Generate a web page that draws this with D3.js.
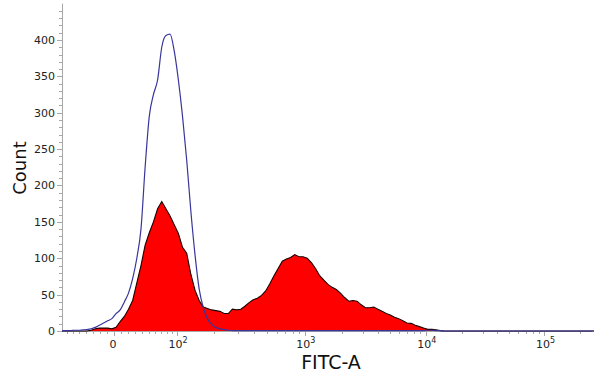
<!DOCTYPE html>
<html>
<head>
<meta charset="utf-8">
<script src="https://cdn.jsdelivr.net/npm/d3@7"></script>
<style>
  body { margin: 0; background: #fff; }
  text { font-family: "DejaVu Sans", Verdana, sans-serif; }
</style>
</head>
<body>
<div id="corpo"></div>
<script>
// histogram counts per display channel (128 channels across the logicle axis)
var stained = [
  0, 0, 0, 0, 0, 0, 0, 1, 3, 4,
  4, 4, 3, 5, 13, 20, 30, 42, 66, 90,
  118, 135, 150, 168, 178, 168, 158, 146, 134, 115,
  107, 78, 56, 42, 33, 31, 29, 28, 27, 24,
  24, 30, 29, 30, 34, 39, 43, 45, 49, 55,
  65, 76, 86, 96, 99, 101, 105, 102, 102, 100,
  94, 86, 76, 70, 64, 60, 57, 52, 46, 41,
  42, 41, 36, 32, 32, 33, 30, 27, 24, 22,
  19, 17, 14, 11, 10.5, 8, 6, 4, 2.3, 2.3,
  1.5, 0.5, 0, 0, 0, 0, 0, 0, 0, 0,
  0, 0, 0, 0, 0, 0, 0, 0, 0, 0,
  0, 0, 0, 0, 0, 0, 0, 0, 0, 0,
  0, 0, 0, 0, 0, 0, 0, 0, 0
];
var control = [
  0.5, 0.5, 0.5, 1, 1, 1.5, 2, 3, 5, 8,
  11, 14, 17, 24, 29, 40, 52, 72, 100, 140,
  225, 295, 325, 345, 390, 406, 408, 385, 345, 295,
  235, 165, 105, 58, 32, 17, 9, 5, 3, 2,
  1, 0.5, 0.5, 0.5, 0.5, 0.5, 0.5, 0.5, 0.5, 0.5,
  0.5, 0.5, 0.5, 0.5, 0.5, 0.5, 0.5, 0.5, 0.5, 0.5,
  0.5, 0.5, 0.5, 0.5, 0.5, 0.5, 0.5, 0.5, 0.5, 0.5,
  0.5, 0.5, 0.5, 0.5, 0.5, 0.5, 0.5, 0.5, 0.5, 0.5,
  0.5, 0.5, 0.5, 0.5, 0.5, 0.5, 0.5, 0.5, 1, 1,
  0.5, 0.5, 0, 0, 0, 0, 0, 0, 0, 0,
  0, 0, 0, 0, 0, 0, 0, 0, 0, 0,
  0, 0, 0, 0, 0, 0, 0, 0, 0, 0,
  0, 0, 0, 0, 0, 0, 0, 0, 0
];
var xTickValues = [0, 1e2, 1e3, 1e4, 1e5];
var xTickExp = [null, 2, 3, 4, 5];
var yTickValues = [0, 50, 100, 150, 200, 250, 300, 350, 400];

var NCH = 128;
// logicle parameters (top of scale, decades, linearization width)
var T = 262144, M = 4.5, W = 0.44;

var width = 600, height = 385;
var plotLeft = 62, plotRight = 594, plotBottom = 331, plotTop = 3.6;

// solve w = 2p ln(p)/(p+1) for p
var wNat = W * Math.LN10, mNat = M * Math.LN10;
var p = bisect(function(q){ return 2 * q * Math.log(q) / (q + 1); }, wNat, 1.0001, 20);

function bisect(f, target, lo, hi){
    for (var i = 0; i < 80; i++){
        var mid = (lo + hi) / 2;
        if (f(mid) < target) lo = mid; else hi = mid;
    }
    return (lo + hi) / 2;
}
// display (decades) -> data value
function logicleInverse(yDec){
    var yy = yDec * Math.LN10;
    var sgn = 1;
    if (yy < wNat){ yy = 2 * wNat - yy; sgn = -1; }
    var u = yy - wNat;
    var v = T * Math.exp(-(mNat - wNat)) * (Math.exp(u) - p * p * Math.exp(-u / p) + p * p - 1);
    return sgn * v;
}
// data value -> display (decades)
function logicle(v){
    return bisect(logicleInverse, v, -1, M + 1);
}

var x = d3.scaleLinear().domain([0, M]).range([plotLeft, plotRight]);
var chan = d3.scaleLinear().domain([0, NCH]).range([0, M]);
var y = d3.scaleLinear().domain([0, 450]).range([plotBottom, plotTop]);

var svg = d3.select("#corpo").append("svg")
    .attr("width", width)
    .attr("height", height);

// minor ticks on x: 10..90 around zero and 2..9 per decade
var xMinor = [-70, -60, -50, -40, -30, -20, -10, 10, 20, 30, 40, 50, 60, 70, 80, 90];
[2, 3, 4].forEach(function(e){
    for (var k = 2; k <= 9; k++) xMinor.push(k * Math.pow(10, e));
});
xMinor.push(2e5);

var axisColor = "#a8a8a8";

svg.append("g").selectAll("line")
    .data(xMinor)
    .enter().append("line")
    .attr("x1", function(d){ return Math.round(x(logicle(d))) + 0.5; })
    .attr("x2", function(d){ return Math.round(x(logicle(d))) + 0.5; })
    .attr("y1", plotBottom)
    .attr("y2", plotBottom + 3)
    .attr("stroke", axisColor);

svg.append("g").selectAll("line")
    .data(xTickValues)
    .enter().append("line")
    .attr("x1", function(d){ return Math.round(x(logicle(d))) + 0.5; })
    .attr("x2", function(d){ return Math.round(x(logicle(d))) + 0.5; })
    .attr("y1", plotBottom)
    .attr("y2", plotBottom + 5)
    .attr("stroke", axisColor);

// y ticks
svg.append("g").selectAll("line")
    .data(d3.range(0, 450, 10))
    .enter().append("line")
    .attr("x1", function(d){ return d % 50 === 0 ? plotLeft - 5 : plotLeft - 3; })
    .attr("x2", plotLeft)
    .attr("y1", function(d){ return Math.round(y(d)) + 0.5; })
    .attr("y2", function(d){ return Math.round(y(d)) + 0.5; })
    .attr("stroke", axisColor);

svg.append("line")
    .attr("x1", plotLeft + 0.5).attr("x2", plotLeft + 0.5)
    .attr("y1", plotTop).attr("y2", plotBottom)
    .attr("stroke", axisColor);
svg.append("line")
    .attr("x1", plotLeft).attr("x2", x(M) - 2)
    .attr("y1", plotBottom + 0.5).attr("y2", plotBottom + 0.5)
    .attr("stroke", axisColor);

// stained sample: red filled histogram
var area = d3.area()
    .x(function(d, i){ return x(chan(i)); })
    .y0(y(0))
    .y1(function(d){ return y(d); });
var line = d3.line()
    .x(function(d, i){ return x(chan(i)); })
    .y(function(d){ return y(d); });

svg.append("path")
    .datum(stained)
    .attr("d", area)
    .attr("fill", "#ff0000");
svg.append("path")
    .datum(stained)
    .attr("d", line)
    .attr("fill", "none")
    .attr("stroke", "#1a0000")
    .attr("stroke-width", 1.1);

// control: blue outline
svg.append("path")
    .datum(control)
    .attr("d", line.curve(d3.curveMonotoneX))
    .attr("fill", "none")
    .attr("stroke", "#38369a")
    .attr("stroke-width", 1.2);

// tick labels
svg.append("g").selectAll("text")
    .data(yTickValues)
    .enter().append("text")
    .attr("x", plotLeft - 7)
    .attr("y", function(d){ return y(d); })
    .attr("dy", "0.36em")
    .attr("text-anchor", "end")
    .style("font-size", "11px")
    .style("fill", "#222")
    .text(function(d){ return d; });

var xl = svg.append("g").selectAll("text")
    .data(xTickValues)
    .enter().append("text")
    .attr("x", function(d){ return x(logicle(d)) + (d === 0 ? -1 : 1); })
    .attr("y", 348)
    .attr("text-anchor", "middle")
    .style("font-size", "11px")
    .style("fill", "#222");
xl.append("tspan")
    .text(function(d, i){ return xTickExp[i] === null ? "0" : "10"; });
xl.filter(function(d, i){ return xTickExp[i] !== null; })
    .append("tspan")
    .attr("dy", -5)
    .style("font-size", "8px")
    .text(function(d){ return xTickExp[xTickValues.indexOf(d)]; });

// axis titles
svg.append("text")
    .attr("x", 331)
    .attr("y", 369)
    .attr("text-anchor", "middle")
    .style("font-size", "19px")
    .style("fill", "#111")
    .text("FITC-A");
svg.append("text")
    .attr("transform", "translate(26,168) rotate(-90)")
    .attr("text-anchor", "middle")
    .style("font-size", "18px")
    .style("fill", "#111")
    .text("Count");
</script>
</body>
</html>
